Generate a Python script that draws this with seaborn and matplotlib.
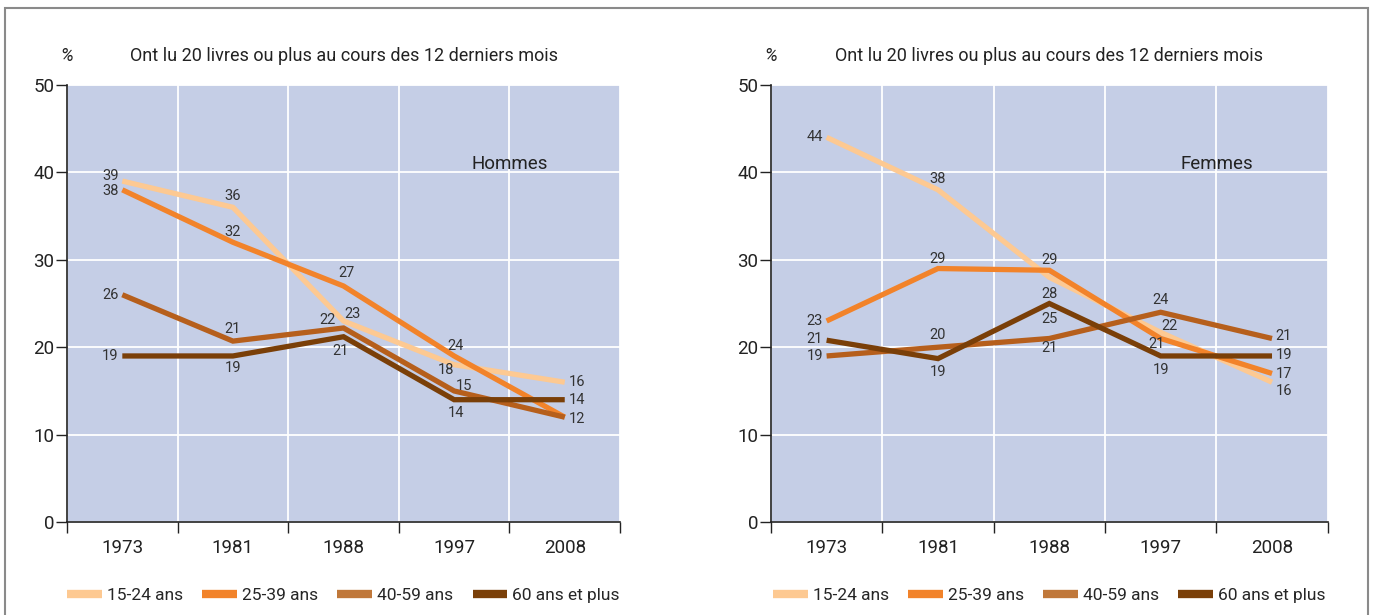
import pandas as pd
import matplotlib
matplotlib.use('Agg')
import matplotlib.pyplot as plt
from matplotlib.patches import Rectangle
from matplotlib.lines import Line2D
import seaborn as sns

# données
annees = ['1973', '1981', '1988', '1997', '2008']
ages = ['15-24 ans', '25-39 ans', '40-59 ans', '60 ans et plus']

hommes = {
    '15-24 ans': [39, 36, 23, 18, 16],
    '25-39 ans': [38, 32, 27, 19, 12],
    '40-59 ans': [26, 20.7, 22.2, 15, 12],
    '60 ans et plus': [19, 19, 21.2, 14, 14],
}
femmes = {
    '15-24 ans': [44, 38, 28, 21.7, 16],
    '25-39 ans': [23, 29, 28.8, 21, 17],
    '40-59 ans': [19, 20, 21, 24, 21],
    '60 ans et plus': [20.8, 18.7, 25, 19, 19],
}

# étiquettes telles qu'écrites sur le graphique
etiq_hommes = {
    '15-24 ans': ['39', '36', '23', '18', '16'],
    '25-39 ans': ['38', '32', '27', '24', ''],
    '40-59 ans': ['26', '21', '22', '15', '12'],
    '60 ans et plus': ['19', '19', '21', '14', '14'],
}
etiq_femmes = {
    '15-24 ans': ['44', '38', '28', '22', '16'],
    '25-39 ans': ['23', '29', '29', '21', '17'],
    '40-59 ans': ['19', '20', '21', '24', '21'],
    '60 ans et plus': ['21', '19', '25', '19', '19'],
}

couleurs = ['#FDC992', '#F2832A', '#B65F1C', '#7A3F08']
legende_couleurs = ['#FDC992', '#F2832A', '#C0783A', '#7A3F08']

# décalages (pixels) des étiquettes
L, R = -12, 12
pos_hommes = {
    '15-24 ans': [(L, 5), (0, 11), (9, 7), (-8, -5), (R, 0)],
    '25-39 ans': [(L, -1), (0, 10), (3, 13), (1, 10), (0, 0)],
    '40-59 ans': [(L, 0), (0, 12), (-16, 8), (10, 5), (R, -2)],
    '60 ans et plus': [(L, 0), (0, -12), (-3, -14), (2, -13), (R, 0)],
}
pos_femmes = {
    '15-24 ans': [(L, 0), (0, 11), (0, -17), (9, 6), (R, -9)],
    '25-39 ans': [(L, 0), (0, 10), (0, 10), (-4, -6), (R, -1)],
    '40-59 ans': [(L, 0), (0, 12), (0, -10), (0, 12), (R, 2)],
    '60 ans et plus': [(L, 1), (0, -13), (0, -15), (0, -14), (R, 1)],
}

sns.set_theme(style='white')
plt.rcParams['font.family'] = ['Roboto', 'DejaVu Sans']

fig = plt.figure(figsize=(13.73, 6.15), dpi=100)
ax1 = fig.add_axes([0.0488, 0.151, 0.4028, 0.711])
ax2 = fig.add_axes([0.5615, 0.151, 0.4055, 0.711])

fig.patches.append(Rectangle((5 / 1373, -0.1), 1363 / 1373, 1.1 - 8 / 615,
                             transform=fig.transFigure, fill=False,
                             edgecolor='#8a8a8a', linewidth=1.5))


def panneau(ax, data, etiq, pos, nom):
    rows = []
    for a in ages:
        for i, an in enumerate(annees):
            rows.append({'annee': i, 'age': a, 'val': data[a][i]})
    df = pd.DataFrame(rows)
    ax.set_facecolor('#C5CEE6')
    sns.lineplot(data=df, x='annee', y='val', hue='age', hue_order=ages,
                 palette=couleurs, linewidth=3.8, ax=ax, legend=False,
                 solid_capstyle='butt', solid_joinstyle='miter')
    for a in ages:
        for i in range(len(annees)):
            if etiq[a][i] == '':
                continue
            dx, dy = pos[a][i]
            ax.annotate(etiq[a][i], (i, data[a][i]), xytext=(dx, dy),
                        textcoords='offset pixels', ha='center', va='center',
                        fontsize=10.5, color='#333333')
    ax.set_xlim(-0.5, 4.5)
    ax.set_ylim(0, 50)
    ax.set_xticks([-0.5, 0.5, 1.5, 2.5, 3.5, 4.5])
    ax.set_xticklabels([])
    ax.set_xticks(range(len(annees)), minor=True)
    ax.set_xticklabels(annees, minor=True, fontsize=13.5, color='#222222')
    ax.tick_params(axis='x', which='major', direction='out', length=8,
                   width=1, color='#222222', bottom=True)
    ax.tick_params(axis='x', which='minor', length=0, pad=12)
    ax.set_yticks([0, 10, 20, 30, 40, 50])
    ax.set_yticklabels(['0', '10', '20', '30', '40', '50'], fontsize=13.5,
                       color='#222222')
    ax.tick_params(axis='y', direction='out', length=8, width=1,
                   color='#222222', left=True, pad=1)
    ax.grid(True, which='major', color='white', linewidth=1.3)
    ax.set_axisbelow(True)
    for s in ['top', 'right']:
        ax.spines[s].set_visible(False)
    for s in ['left', 'bottom']:
        ax.spines[s].set_color('#222222')
        ax.spines[s].set_linewidth(1.2)
    ax.set_xlabel('')
    ax.set_ylabel('')
    ax.text(3.5, 41, nom, ha='center', va='center', fontsize=13.5,
            color='#222222')
    ax.text(0.0, 1.065, '%', transform=ax.transAxes, ha='center',
            va='center', fontsize=13, style='italic', color='#222222')
    ax.text(0.5, 1.065, 'Ont lu 20 livres ou plus au cours des 12 derniers mois',
            transform=ax.transAxes, ha='center', va='center', fontsize=13,
            color='#222222')
    handles = [Line2D([0], [0], color=c, linewidth=6, solid_capstyle='butt')
               for c in legende_couleurs]
    ax.legend(handles, ages, loc='center', bbox_to_anchor=(0.5, -0.167),
              ncol=4, frameon=False, fontsize=12.5, handlelength=2.0,
              columnspacing=1.1, handletextpad=0.3)


panneau(ax1, hommes, etiq_hommes, pos_hommes, 'Hommes')
panneau(ax2, femmes, etiq_femmes, pos_femmes, 'Femmes')

plt.savefig('out.png', dpi=100)
